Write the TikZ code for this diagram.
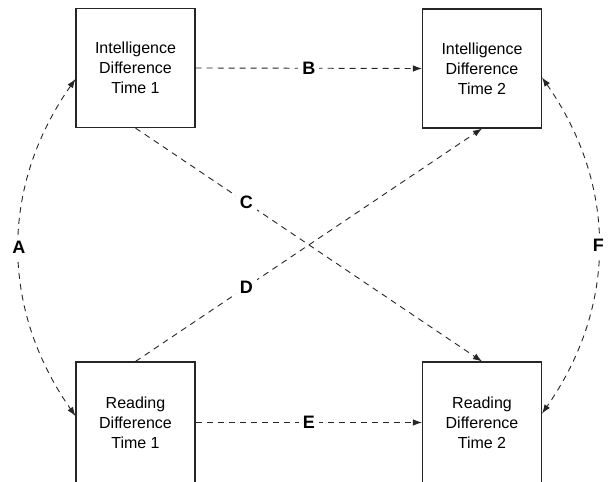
\documentclass[tikz,border=0pt]{standalone}
\usepackage{fontspec}
\setmainfont{Liberation Sans}
\usetikzlibrary{arrows.meta}
\begin{document}
\begin{tikzpicture}[x=1pt,y=-1pt,
  box/.style={draw=black!85, line width=1.1pt, minimum width=119pt, minimum height=119pt,
    inner sep=0pt, align=center, font=\fontsize{16}{20}\selectfont},
  tallbox/.style={box, minimum height=121pt},
  conn/.style={draw=black!85, line width=0.9pt, dash pattern=on 6pt off 5pt,
    -{Latex[length=9pt,width=6.5pt]}},
  biconn/.style={conn, {Latex[length=9pt,width=6.5pt]}-{Latex[length=9pt,width=6.5pt]}},
  lab/.style={fill=white, inner sep=4pt, font=\fontsize{18}{18}\bfseries\selectfont}]
\useasboundingbox (0,0) rectangle (609,481);
\fill[white] (0,0) rectangle (609,481);
\node[box] (TL) at (135.5,68) {Intelligence\\Difference\\Time 1};
\node[box] (TR) at (482,68.5) {Intelligence\\Difference\\Time 2};
\node[tallbox] (BL) at (135.5,422.5) {Reading\\Difference\\Time 1};
\node[tallbox] (BR) at (482,422.5) {Reading\\Difference\\Time 2};
\draw[conn] (TL.east) -- (TR.west) node[lab,midway] {B};
\draw[conn] (BL.east) -- (BR.west) node[lab,midway] {E};
\draw[conn] (TL.south) -- (BR.north) node[lab,pos=0.32] {C};
\draw[conn] (BL.north) -- (TR.south) node[lab,pos=0.32] {D};
\draw[biconn] ([yshift=-11pt]TL.west) to[bend right=35] node[lab,midway] {A} ([yshift=6.5pt]BL.west);
\draw[biconn] ([yshift=-9pt]TR.east) to[bend left=35] node[lab,midway] {F} ([yshift=9pt]BR.east);
\end{tikzpicture}
\end{document}
